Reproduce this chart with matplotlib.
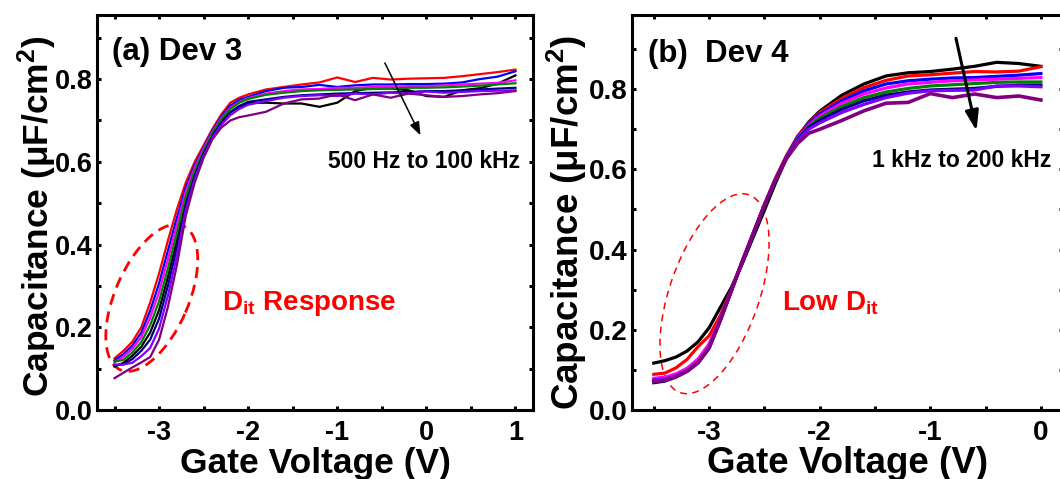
import matplotlib.pyplot as plt
from matplotlib.patches import Ellipse
from matplotlib.transforms import ScaledTranslation

plt.rcParams['font.family'] = ['Liberation Sans', 'DejaVu Sans']
plt.rcParams['font.weight'] = 'bold'
plt.rcParams['axes.labelweight'] = 'bold'
plt.rcParams['mathtext.fontset'] = 'custom'
plt.rcParams['mathtext.rm'] = 'Liberation Sans:bold'
plt.rcParams['mathtext.it'] = 'Liberation Sans:bold'
plt.rcParams['mathtext.bf'] = 'Liberation Sans:bold'
plt.rcParams['axes.unicode_minus'] = False

# ---- Dev 3: C-V sweeps, 500 Hz -> 100 kHz ----
vg_a = [-3.5, -3.4, -3.3, -3.2, -3.1, -3.0, -2.9, -2.8, -2.7, -2.6, -2.5, -2.4,
        -2.3, -2.2, -2.1, -2.0, -1.8, -1.6, -1.4, -1.2, -1.0, -0.8, -0.6, -0.4,
        -0.2, 0.0, 0.2, 0.4, 0.6, 0.8, 1.0]
red_a = [0.125, 0.143, 0.165, 0.200, 0.260, 0.330, 0.410, 0.485, 0.550, 0.600, 0.640, 0.680,
         0.715, 0.743, 0.755, 0.763, 0.775, 0.781, 0.787, 0.792, 0.804, 0.793, 0.803, 0.799,
         0.801, 0.802, 0.803, 0.807, 0.812, 0.817, 0.823]
blue_a = [0.120, 0.135, 0.156, 0.187, 0.240, 0.306, 0.386, 0.465, 0.538, 0.592, 0.635, 0.676,
          0.710, 0.736, 0.750, 0.757, 0.771, 0.779, 0.781, 0.786, 0.781, 0.785, 0.787, 0.787,
          0.788, 0.788, 0.789, 0.792, 0.800, 0.806, 0.819]
magenta_a = [0.116, 0.128, 0.148, 0.176, 0.223, 0.285, 0.365, 0.447, 0.528, 0.586, 0.632, 0.673,
             0.706, 0.731, 0.745, 0.754, 0.765, 0.771, 0.775, 0.776, 0.779, 0.779, 0.781, 0.781,
             0.783, 0.783, 0.785, 0.787, 0.789, 0.791, 0.797]
green_a = [0.117, 0.121, 0.139, 0.164, 0.205, 0.263, 0.343, 0.428, 0.516, 0.579, 0.627, 0.670,
           0.703, 0.728, 0.743, 0.752, 0.762, 0.767, 0.771, 0.773, 0.774, 0.775, 0.776, 0.777,
           0.779, 0.779, 0.780, 0.782, 0.784, 0.787, 0.790]
black_a = [0.105, 0.114, 0.131, 0.153, 0.187, 0.242, 0.322, 0.410, 0.506, 0.572, 0.623, 0.666,
           0.698, 0.720, 0.733, 0.742, 0.743, 0.741, 0.741, 0.733, 0.743, 0.771, 0.779, 0.777,
           0.773, 0.759, 0.757, 0.773, 0.778, 0.789, 0.809]
navy_a = [0.108, 0.110, 0.123, 0.143, 0.170, 0.221, 0.301, 0.393, 0.496, 0.566, 0.620, 0.663,
          0.695, 0.720, 0.735, 0.745, 0.751, 0.757, 0.761, 0.763, 0.765, 0.766, 0.767, 0.768,
          0.769, 0.771, 0.771, 0.773, 0.775, 0.777, 0.779]
violet_a = [0.110, 0.110, 0.114, 0.130, 0.150, 0.197, 0.277, 0.373, 0.484, 0.558, 0.615, 0.659,
            0.690, 0.713, 0.728, 0.738, 0.747, 0.755, 0.759, 0.761, 0.759, 0.765, 0.763, 0.767,
            0.765, 0.770, 0.767, 0.769, 0.771, 0.772, 0.773]
purple_a = [0.077, 0.090, 0.103, 0.115, 0.128, 0.170, 0.250, 0.350, 0.470, 0.550, 0.610, 0.655,
            0.683, 0.700, 0.708, 0.712, 0.721, 0.741, 0.751, 0.753, 0.763, 0.749, 0.763, 0.755,
            0.765, 0.761, 0.757, 0.759, 0.763, 0.766, 0.771]

# ---- Dev 4: C-V sweeps, 1 kHz -> 200 kHz ----
vg_b = [-3.5, -3.4, -3.3, -3.2, -3.1, -3.0, -2.9, -2.8, -2.7, -2.6, -2.5, -2.4,
        -2.3, -2.2, -2.1, -2.0, -1.8, -1.6, -1.4, -1.2, -1.0, -0.8, -0.6, -0.4,
        -0.2, 0.0]
black_b = [0.117, 0.123, 0.132, 0.147, 0.170, 0.205, 0.255, 0.305, 0.365, 0.432, 0.498, 0.566,
           0.628, 0.680, 0.718, 0.745, 0.785, 0.813, 0.833, 0.841, 0.844, 0.850, 0.857, 0.867,
           0.864, 0.857]
red_b = [0.089, 0.092, 0.105, 0.126, 0.158, 0.185, 0.235, 0.300, 0.372, 0.443, 0.513, 0.578,
         0.635, 0.683, 0.716, 0.742, 0.777, 0.804, 0.822, 0.833, 0.836, 0.840, 0.844, 0.843,
         0.845, 0.856]
blue_b = [0.073, 0.076, 0.085, 0.099, 0.120, 0.157, 0.225, 0.298, 0.371, 0.441, 0.511, 0.576,
          0.632, 0.680, 0.713, 0.738, 0.771, 0.796, 0.813, 0.821, 0.825, 0.828, 0.829, 0.832,
          0.835, 0.839]
magenta_b = [0.079, 0.082, 0.090, 0.104, 0.127, 0.165, 0.228, 0.298, 0.371, 0.441, 0.511, 0.575,
             0.631, 0.678, 0.710, 0.733, 0.765, 0.788, 0.803, 0.813, 0.817, 0.821, 0.823, 0.825,
             0.827, 0.829]
green_b = [0.072, 0.075, 0.084, 0.098, 0.119, 0.156, 0.224, 0.297, 0.370, 0.440, 0.510, 0.574,
           0.630, 0.676, 0.707, 0.728, 0.757, 0.779, 0.793, 0.802, 0.808, 0.811, 0.814, 0.817,
           0.818, 0.818]
navy_b = [0.068, 0.072, 0.082, 0.096, 0.117, 0.154, 0.222, 0.296, 0.369, 0.439, 0.509, 0.573,
          0.629, 0.674, 0.704, 0.722, 0.750, 0.771, 0.785, 0.793, 0.798, 0.800, 0.802, 0.807,
          0.810, 0.810]
violet_b = [0.075, 0.077, 0.085, 0.098, 0.118, 0.155, 0.223, 0.297, 0.370, 0.440, 0.510, 0.574,
            0.629, 0.672, 0.700, 0.716, 0.742, 0.762, 0.779, 0.790, 0.796, 0.797, 0.798, 0.808,
            0.808, 0.806]
purple_b = [0.071, 0.074, 0.083, 0.097, 0.118, 0.155, 0.223, 0.297, 0.370, 0.440, 0.510, 0.574,
            0.627, 0.665, 0.690, 0.700, 0.722, 0.746, 0.765, 0.767, 0.789, 0.779, 0.788, 0.779,
            0.783, 0.773]

colors = ['#000000', '#ff0000', '#0000ff', '#ff00ff', '#008000', '#000080', '#8000ff', '#800080']
series_a = [black_a, red_a, blue_a, magenta_a, green_a, navy_a, violet_a, purple_a]
series_b = [black_b, red_b, blue_b, magenta_b, green_b, navy_b, violet_b, purple_b]

W, H = 1060, 479
fig = plt.figure(figsize=(W / 100, H / 100), dpi=100)
ax_a = fig.add_axes([96.7 / W, 69 / H, 436.6 / W, 395 / H])
ax_b = fig.add_axes([631.7 / W, 69 / H, 431.3 / W, 395 / H])

for vals, c in zip(series_a, colors):
    ax_a.plot(vg_a, vals, color=c, lw=1.6)
for vals, c in zip(series_b, colors):
    ax_b.plot(vg_b, vals, color=c, lw=2.3 if c != '#800080' else 2.6)


def style_axes(ax, xlim, ylim, fs_tick, fs_lab, ylab_x, ylab_y):
    ax.set_xlim(*xlim)
    ax.set_ylim(*ylim)
    ax.set_xticks([t for t in range(-3, 2) if xlim[0] < t < xlim[1]])
    ax.set_xticks([t + 0.5 for t in range(-4, 2) if xlim[0] < t + 0.5 < xlim[1]], minor=True)
    ax.set_yticks([0.0, 0.2, 0.4, 0.6, 0.8])
    ax.set_yticks([0.1, 0.3, 0.5, 0.7, 0.9], minor=True)
    ax.set_yticklabels(['0.0', '0.2', '0.4', '0.6', '0.8'])
    for s in ax.spines.values():
        s.set_linewidth(2.2)
    ax.tick_params(which='both', direction='in', top=True, right=True,
                   length=3, width=2.2)
    ax.tick_params(axis='x', labelsize=fs_tick, pad=7)
    ax.tick_params(axis='y', labelsize=fs_tick, pad=3)
    ax.set_xlabel('Gate Voltage (V)', fontsize=fs_lab, fontweight='bold', va='baseline')
    ax.xaxis.set_label_coords(0.5, -0.159)
    ax.set_ylabel('Capacitance (μF/cm$^2$)', fontsize=fs_lab, fontweight='bold', va='baseline')
    ax.yaxis.set_label_coords(ylab_x, ylab_y)


style_axes(ax_a, (-3.7, 1.2), (0, 0.955), 19.5, 25.5, -0.109, 0.491)
style_axes(ax_b, (-3.7, 0.2), (0, 0.985), 20, 26.5, -0.122, 0.475)

# panel labels and frequency annotations
ax_a.text(0.034, 0.886, '(a) Dev 3', transform=ax_a.transAxes, fontsize=22.5, va='baseline')
ax_b.text(0.038, 0.882, '(b)  Dev 4', transform=ax_b.transAxes, fontsize=22.5, va='baseline')
ax_a.text(0.9695, 0.613, '500 Hz to 100 kHz', transform=ax_a.transAxes, fontsize=16.5,
          ha='right', va='baseline')
ax_b.text(0.974, 0.615, '1 kHz to 200 kHz', transform=ax_b.transAxes, fontsize=16.5,
          ha='right', va='baseline')
ax_a.annotate('', xy=(-0.066, 0.664), xytext=(-0.466, 0.839),
              arrowprops=dict(arrowstyle='-|>,head_length=0.4,head_width=0.15',
                              mutation_scale=20, lw=1.1, color='k', shrinkA=0, shrinkB=0))
ax_b.annotate('', xy=(-0.582, 0.696), xytext=(-0.768, 0.927),
              arrowprops=dict(arrowstyle='-|>,head_length=0.6,head_width=0.2',
                              mutation_scale=20, lw=2.2, color='k', shrinkA=0, shrinkB=0))

ax_a.text(0.286, 0.253, r'D$_{\mathregular{it}}$ Response', transform=ax_a.transAxes,
          fontsize=20, color='#ff0000', va='baseline')
ax_b.text(0.348, 0.253, r'Low D$_{\mathregular{it}}$', transform=ax_b.transAxes,
          fontsize=20, color='#ff0000', va='baseline')

# dashed ellipses around the depletion region (sizes in inches)
ell_a = Ellipse((0, 0), 1.57, 0.734, angle=66.5, fill=False, ec='#ff0000', lw=2.0,
                ls=(0, (4, 2.5)),
                transform=fig.dpi_scale_trans + ScaledTranslation(-3.082, 0.271, ax_a.transData))
ell_b = Ellipse((0, 0), 2.094, 0.896, angle=70.8, fill=False, ec='#ff0000', lw=1.1,
                ls=(0, (4.5, 3.5)),
                transform=fig.dpi_scale_trans + ScaledTranslation(-2.951, 0.29, ax_b.transData))
ax_a.add_patch(ell_a)
ax_b.add_patch(ell_b)

fig.savefig('out.png', dpi=100)
